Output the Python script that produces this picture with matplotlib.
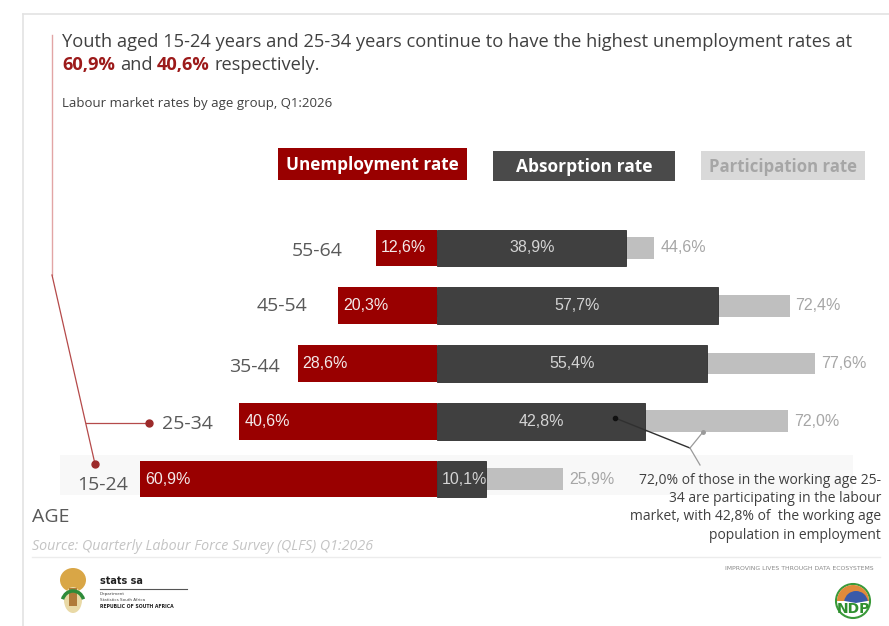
import matplotlib
matplotlib.use('Agg')
import matplotlib.pyplot as plt
from matplotlib.patches import Rectangle, Circle, Wedge, Ellipse, Arc

# ---------------- data ----------------
age_groups = ['55-64', '45-54', '35-44', '25-34', '15-24']
unemployment = [12.6, 20.3, 28.6, 40.6, 60.9]
absorption = [38.9, 57.7, 55.4, 42.8, 10.1]
participation = [44.6, 72.4, 77.6, 72.0, 25.9]
series_names = ['Unemployment rate', 'Absorption rate', 'Participation rate']


def fmt(v):
    return f"{v:.1f}".replace('.', ',') + '%'


# ---------------- styling / layout ----------------
RED = '#990000'
DARK = '#404040'
LIGHT = '#bfbfbf'
TXT = '#404040'
W, H = 889, 626
PX = 4.87          # pixels per percentage point
X0 = 437           # pixel x of zero
Y0 = 248           # pixel y of first row centre
DY = 57.75         # row spacing in pixels
age_gap = [33, 31, 18, 26, 12]      # px gap between age label and bar
age_dy = [3, 0, 4, 3, 6]            # px vertical nudge (down)

fig = plt.figure(figsize=(W / 100, H / 100), dpi=100)
fig.patch.set_facecolor('white')
renderer = fig.canvas.get_renderer()

back = fig.add_axes([0, 0, 1, 1])
back.set_xlim(0, W); back.set_ylim(H, 0); back.axis('off')

ax = fig.add_axes([0, 0, 1, 1])
ax.patch.set_alpha(0)
ax.axis('off')
ax.set_xlim(-X0 / PX, (W - X0) / PX)
ax.set_ylim((H - Y0) / DY, -Y0 / DY)

ov = fig.add_axes([0, 0, 1, 1])
ov.patch.set_alpha(0)
ov.set_xlim(0, W); ov.set_ylim(H, 0); ov.axis('off')


def fit(t, target):
    bb = t.get_window_extent(renderer)
    t.set_fontsize(t.get_fontsize() * target / bb.width)
    return t


# frame
back.plot([23, W], [14, 14], color='#e3e3e3', lw=1.2)
back.plot([23, 23], [14, H], color='#e3e3e3', lw=1.2)
back.plot([32, 880], [557, 557], color='#ececec', lw=1)
# faint band behind youngest group
back.add_patch(Rectangle((60, 455), 793, 40, color='#f8f8f8', lw=0))

# ---------------- bars ----------------
ypos = list(range(len(age_groups)))
ax.barh(ypos, [-u for u in unemployment], height=0.64, color=RED, zorder=3)
ax.barh(ypos, participation, height=0.38, color=LIGHT, zorder=2)
ax.barh(ypos, absorption, height=0.64, color=DARK, zorder=3,
        edgecolor='#2e2e2e', linewidth=0.6)

for i, g in enumerate(age_groups):
    u, a, p = unemployment[i], absorption[i], participation[i]
    ax.annotate(fmt(u), (-u, i), xytext=(5, 0), textcoords='offset pixels',
                ha='left', va='center', color='#f3eaea', fontsize=11.5,
                family='Liberation Sans', zorder=5)
    if a > 15:
        ax.annotate(fmt(a), (a / 2, i), ha='center', va='center',
                    color='#d4d4d4', fontsize=11.5, family='Liberation Sans', zorder=5)
    else:
        ax.annotate(fmt(a), (0, i), xytext=(5, 0), textcoords='offset pixels',
                    ha='left', va='center', color='#d4d4d4', fontsize=11.5,
                    family='Liberation Sans', zorder=5)
    ax.annotate(fmt(p), (p, i), xytext=(6, 0), textcoords='offset pixels',
                ha='left', va='center', color='#a6a6a6', fontsize=11.5,
                family='Liberation Sans', zorder=5)
    ax.annotate(g, (-u, i), xytext=(-age_gap[i], -age_dy[i]), textcoords='offset pixels',
                ha='right', va='center', color='#595959', fontsize=14,
                family='Open Sans', zorder=5)

# ---------------- legend boxes ----------------
legend_boxes = [(278, 148, 467, 180, RED, '#ffffff'),
                (493, 151, 675, 181, '#4a4a4a', '#ffffff'),
                (701, 151, 865, 180, '#d9d9d9', '#a6a6a6')]
legend_text_w = [172, 136, 148]
for (x1, y1, x2, y2, fc, tc), name, tw in zip(legend_boxes, series_names, legend_text_w):
    ov.add_patch(Rectangle((x1, y1), x2 - x1, y2 - y1, color=fc, lw=0))
    t = ov.text((x1 + x2) / 2, (y1 + y2) / 2 + 1, name, ha='center', va='center',
                color=tc, fontsize=12, fontweight='bold', family='Open Sans')
    fit(t, tw)

# ---------------- titles ----------------
t1 = ov.text(62, 42, 'Youth aged 15-24 years and 25-34 years continue to have the highest unemployment rates at',
             ha='left', va='center', color=TXT, fontsize=13, family='Open Sans')
fit(t1, 786)
fs = t1.get_fontsize()


def width(s, **kw):
    tt = ov.text(0, 0, s, fontsize=fs, family='Open Sans', **kw)
    w = tt.get_window_extent(renderer).width
    tt.remove()
    return w


space = width('a a') - width('aa')
pieces = [('60,9%', 'bold', '#9c1a1a'), ('and', 'normal', TXT),
          ('40,6%', 'bold', '#9c1a1a'), ('respectively.', 'normal', TXT)]
x = 62
for s, wt, c in pieces:
    tt = ov.text(x, 65, s, ha='left', va='center', color=c, fontsize=fs,
                 fontweight=wt, family='Open Sans')
    x += tt.get_window_extent(renderer).width + space

st = ov.text(62, 103, 'Labour market rates by age group, Q1:2026', ha='left', va='center',
             color=TXT, fontsize=8.5, family='Open Sans')
fit(st, 268)

# red connector lines
RL = '#b54a4a'
ov.plot([52, 52], [35, 275], color='#e2a5a5', lw=1)
ov.plot([52, 95], [275, 464], color=RL, lw=0.9)
ov.plot([86, 149], [423, 423], color=RL, lw=0.9)
ov.plot([95], [464], 'o', color='#9c2a2a', ms=5)
ov.plot([149], [423], 'o', color='#9c2a2a', ms=5)

# AGE + source
ov.text(32, 517, 'AGE', ha='left', va='center', color='#595959', fontsize=14, family='Open Sans')
src = ov.text(32, 546, 'Source: Quarterly Labour Force Survey (QLFS) Q1:2026', ha='left',
              va='center', color='#c4c4c4', fontsize=10, family='Open Sans', style='italic')
fit(src, 340)

# annotation
ov.plot([615, 690], [418, 448], color='#303030', lw=1)
ov.plot([615], [418], 'o', color='#111111', ms=3)
ov.plot([690, 703], [448, 432], color='#9a9a9a', lw=0.9)
ov.plot([690, 700], [448, 465], color='#9a9a9a', lw=0.9)
ov.plot([703], [432], 'o', color='#9a9a9a', ms=2.5)
ann_lines = ['72,0% of those in the working age 25-', '34 are participating in the labour',
             'market, with 42,8% of  the working age', 'population in employment']
a0 = ov.text(881, 480, ann_lines[0], ha='right', va='center', color=TXT,
             fontsize=10, family='Open Sans')
fit(a0, 243)
for k, line in enumerate(ann_lines[1:], start=1):
    ov.text(881, 480 + 18.4 * k, line, ha='right', va='center', color=TXT,
            fontsize=a0.get_fontsize(), family='Open Sans')

# ---------------- footer ----------------
# stats sa emblem (simplified)
ov.add_patch(Ellipse((73, 580), 26, 24, color='#d9a646', lw=0))
ov.add_patch(Ellipse((73, 600), 18, 26, color='#e9d9a6', lw=0))
ov.add_patch(Rectangle((69, 588), 8, 18, color='#b07a3a', lw=0))
ov.add_patch(Arc((73, 603), 22, 24, theta1=200, theta2=340, color='#2e8b3a', lw=2.5))
ov.text(100, 581, 'stats sa', ha='left', va='center', color='#222222', fontsize=7,
        fontweight='bold', family='DejaVu Sans')
ov.plot([100, 187], [589, 589], color='#555555', lw=0.8)
ov.text(100, 594, 'Department', ha='left', va='center', color='#444444', fontsize=3, family='DejaVu Sans')
ov.text(100, 600, 'Statistics South Africa', ha='left', va='center', color='#444444', fontsize=3, family='DejaVu Sans')
ov.text(100, 606, 'REPUBLIC OF SOUTH AFRICA', ha='left', va='center', color='#222222', fontsize=3.3,
        fontweight='bold', family='DejaVu Sans')

imp = ov.text(799, 568, 'IMPROVING LIVES THROUGH DATA ECOSYSTEMS', ha='center', va='center',
              color='#888888', fontsize=4, family='DejaVu Sans')
fit(imp, 145)
# NDP logo (simplified)
ov.add_patch(Circle((853, 601), 17, facecolor='white', edgecolor='#3a9a3a', lw=1.5))
ov.add_patch(Wedge((853, 601), 16, 180, 360, color='#e08a3a', lw=0))
ov.add_patch(Wedge((856, 603), 12, 190, 350, color='#3a5aa8', lw=0))
ov.text(853, 609, 'NDP', ha='center', va='center', color='#2f8f2f', fontsize=10,
        fontweight='bold', family='DejaVu Sans')

fig.savefig('out.png', dpi=100, facecolor='white')
